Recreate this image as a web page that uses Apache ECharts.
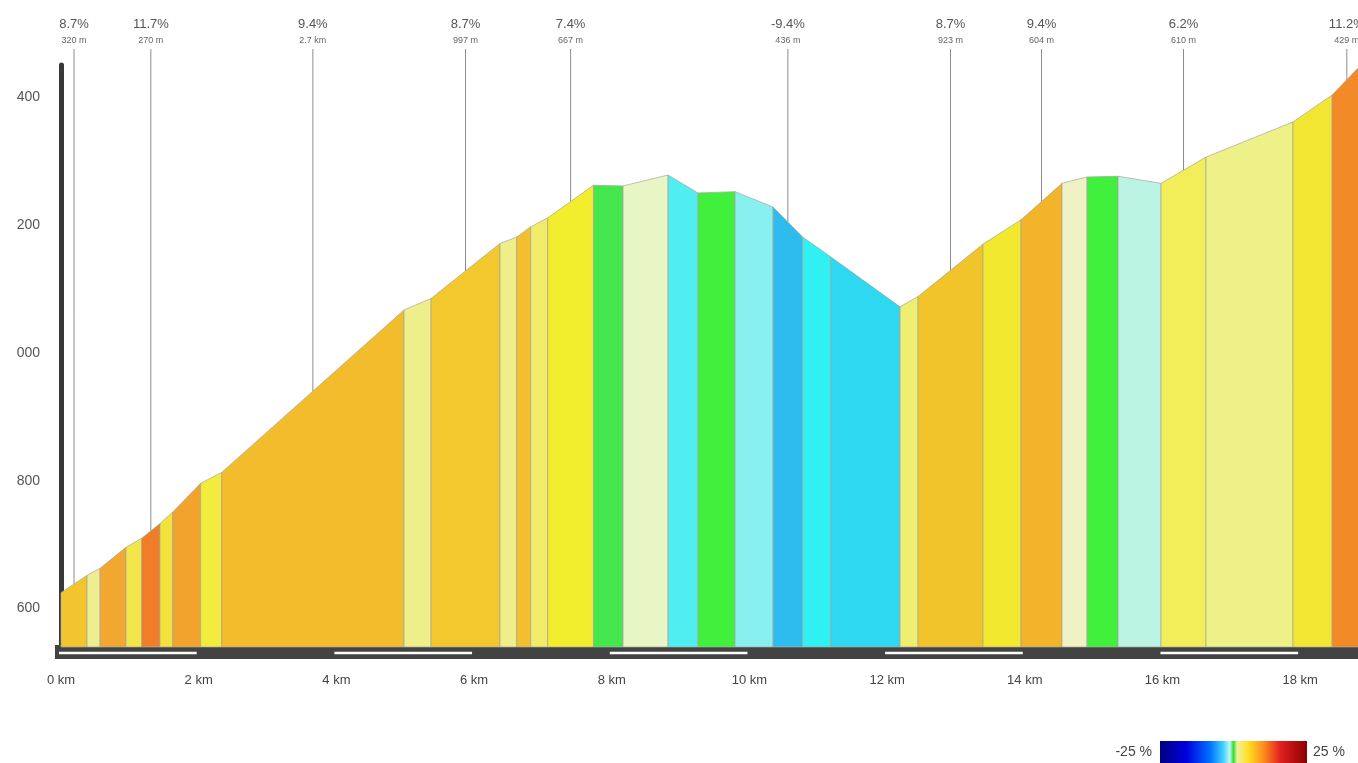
<!DOCTYPE html>
<html>
<head>
<meta charset="utf-8">
<title>Elevation profile</title>
<script src="https://cdn.jsdelivr.net/npm/echarts@6/dist/echarts.min.js"></script>
<style>
    html, body { margin: 0; padding: 0; background: #fff; }
    #chart { width: 1358px; height: 763px; }
</style>
</head>
<body>
<div id="chart"></div>
<script>
// distance (km) and elevation (m) at each change of grade
const distKm = [0, 0.378, 0.567, 0.944, 1.172, 1.438, 1.623, 2.029, 2.334, 4.983, 5.375, 6.377, 6.620, 6.823, 7.070, 7.735, 8.164, 8.818, 9.253, 9.791, 10.343, 10.774, 11.181, 12.188, 12.449, 13.393, 13.945, 14.541, 14.904, 15.355, 15.979, 16.632, 17.896, 18.463, 18.892];
const elevM = [625, 652, 663, 696, 710, 733, 751, 796, 813, 1067, 1085, 1171, 1181, 1197, 1211, 1262, 1261, 1278, 1250, 1252, 1228, 1181, 1150, 1072, 1088, 1170, 1208, 1265, 1275, 1276, 1265, 1306, 1361, 1403, 1451];

// one colour per segment (grade colour)
const segColors = ['#f2c52e', '#eeee90', '#f2a830', '#f2e64a', '#f07e28', '#f2e23c', '#f2a32e', '#f2ec3c', '#f2bc2c', '#eeee8a',
    '#f2c82e', '#f0ee8a', '#f2c02e', '#f0ec6a', '#f2ee2e', '#44e84e', '#e8f5c4', '#50eef0', '#40f03c', '#88f0ee',
    '#2ebcee', '#30f0f2', '#2ed8f0', '#eeee70', '#f2c42c', '#f2e830', '#f2b42a', '#eef2c4', '#40f03c', '#bcf4e4',
    '#f2ee5a', '#eef088', '#f2e632', '#f28a28'];

// annotated climbs: segment index, grade, length
const annoSeg = [0, 4, 8, 10, 14, 20, 24, 26, 30, 33];
const annoGrade = ['8.7%', '11.7%', '9.4%', '8.7%', '7.4%', '-9.4%', '8.7%', '9.4%', '6.2%', '11.2%'];
const annoLen = ['320 m', '270 m', '2.7 km', '997 m', '667 m', '436 m', '923 m', '604 m', '610 m', '429 m'];

// axes
const xTicks = [0, 2, 4, 6, 8, 10, 12, 14, 16, 18];
const yTicks = [600, 800, 1000, 1200, 1400];
const stripeStart = [0, 4, 8, 12, 16];

// grade legend
const legendStops = [0, 0.18, 0.34, 0.43, 0.475, 0.5, 0.525, 0.6, 0.7, 0.82, 1];
const legendColors = ['#000080', '#0000e0', '#0070ff', '#40d0ff', '#c0f8f8', '#30e030', '#f0f0a0', '#ffe020', '#ff9020', '#e02020', '#8b0000'];

const yMin = 540;
const yMax = 1450;
const xMax = 18.84;
const fontFam = 'Liberation Sans, Arial, sans-serif';

const chart = echarts.init(document.getElementById('chart'));

const segData = distKm.slice(0, -1).map((d, i) => [d, elevM[i], distKm[i + 1], elevM[i + 1]]);
const annoData = annoSeg.map((s, k) => [(distKm[s] + distKm[s + 1]) / 2, (elevM[s] + elevM[s + 1]) / 2, k]);
const stripeData = stripeStart.map(s => [s, s + 2]);

const option = {
    backgroundColor: '#ffffff',
    animation: false,
    grid: { left: 61, right: 0, top: 65, bottom: 116, outerBoundsMode: 'none' },
    xAxis: {
        type: 'value',
        min: 0,
        max: xMax,
        offset: 6,
        axisLine: { show: true, onZero: false, lineStyle: { color: '#434343', width: 12 } },
        axisTick: { show: false },
        splitLine: { show: false },
        axisLabel: {
            customValues: xTicks,
            formatter: v => v + ' km',
            margin: 21,
            color: '#444',
            fontSize: 13,
            fontFamily: fontFam
        }
    },
    yAxis: {
        type: 'value',
        min: yMin,
        max: yMax,
        offset: 3,
        axisLine: { show: true, lineStyle: { color: '#383838', width: 5 } },
        axisTick: { show: false },
        splitLine: { show: false },
        axisLabel: {
            customValues: yTicks,
            formatter: v => String(v).slice(-3),
            margin: 18,
            color: '#555',
            fontSize: 14,
            fontFamily: fontFam
        }
    },
    graphic: [
        { type: 'rect', shape: { x: 55, y: 645, width: 8, height: 14 }, style: { fill: '#434343' }, z: 1 },
        {
            type: 'rect',
            shape: { x: 1160, y: 741, width: 147, height: 22 },
            style: {
                fill: new echarts.graphic.LinearGradient(0, 0, 1, 0,
                    legendStops.map((o, i) => ({ offset: o, color: legendColors[i] })))
            }
        },
        { type: 'text', x: 1152, y: 752, style: { text: '-25 %', fill: '#444', font: '14px ' + fontFam, align: 'right', verticalAlign: 'middle' } },
        { type: 'text', x: 1313, y: 752, style: { text: '25 %', fill: '#444', font: '14px ' + fontFam, align: 'left', verticalAlign: 'middle' } }
    ],
    series: [
        {
            // coloured gradient segments
            type: 'custom',
            data: segData,
            encode: { x: [0, 2], y: [1, 3] },
            renderItem: (params, api) => {
                const i = params.dataIndex;
                const p0 = api.coord([api.value(0), yMin]);
                const p1 = api.coord([api.value(0), api.value(1)]);
                const p2 = api.coord([api.value(2), api.value(3)]);
                const p3 = api.coord([api.value(2), yMin]);
                return {
                    type: 'polygon',
                    shape: { points: [p0, p1, p2, p3] },
                    style: { fill: segColors[i], stroke: '#a6a69a', lineWidth: 0.7 }
                };
            },
            z: 2
        },
        {
            // white distance stripes on the base bar
            type: 'custom',
            data: stripeData,
            encode: { x: [0, 1] },
            renderItem: (params, api) => {
                const a = api.coord([api.value(0), yMin]);
                const b = api.coord([api.value(1), yMin]);
                return {
                    type: 'line',
                    shape: { x1: a[0] - 2, y1: a[1] + 6, x2: b[0] - 2, y2: b[1] + 6 },
                    style: { stroke: '#ffffff', lineWidth: 2.5 }
                };
            },
            z: 5
        },
        {
            // climb annotations
            type: 'custom',
            data: annoData,
            encode: { x: 0, y: 1 },
            renderItem: (params, api) => {
                const k = api.value(2);
                const p = api.coord([api.value(0), api.value(1)]);
                return {
                    type: 'group',
                    children: [
                        { type: 'line', shape: { x1: p[0], y1: 49, x2: p[0], y2: p[1] }, style: { stroke: '#8c8c8c', lineWidth: 1 } },
                        { type: 'text', x: p[0], y: 24, style: { text: annoGrade[k], fill: '#555', font: '13px ' + fontFam, align: 'center', verticalAlign: 'middle' } },
                        { type: 'text', x: p[0], y: 41, style: { text: annoLen[k], fill: '#666', font: '9px ' + fontFam, align: 'center', verticalAlign: 'middle' } }
                    ]
                };
            },
            z: 1
        }
    ]
};

chart.setOption(option);
</script>
</body>
</html>
